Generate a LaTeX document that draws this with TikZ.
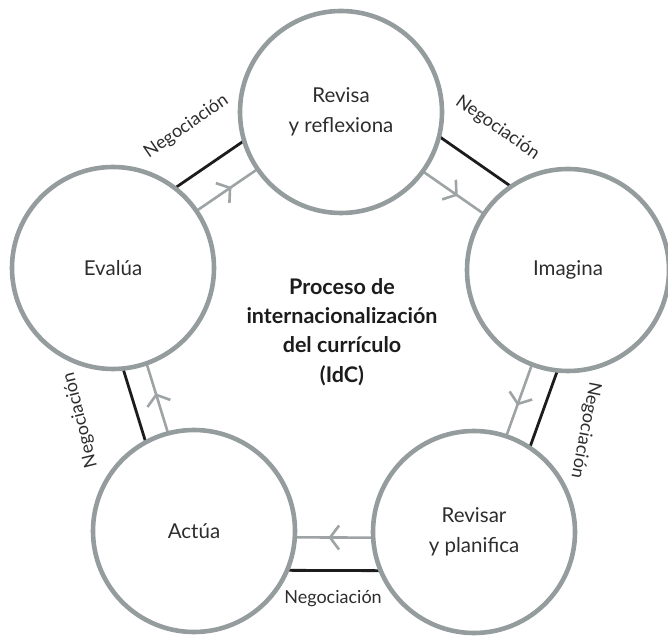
\documentclass[tikz,border=0pt]{standalone}
\usepackage{fontspec}
\setmainfont{Lato}
\usetikzlibrary{calc,decorations.markings}
\pgfdeclarelayer{background}
\pgfsetlayers{background,main}
\definecolor{ringgray}{RGB}{149,156,157}
\definecolor{flowgray}{RGB}{158,164,165}
\definecolor{negoblack}{RGB}{28,28,28}
\definecolor{textgray}{RGB}{45,45,45}

% two parallel links between stages: a grey flow line with a chevron
% (offset #3) and a black negotiation line (offset #4), outward positive
\newcommand{\linkpair}[4]{%
  \pgfmathsetmacro\sg{sqrt(101*101-(#3)*(#3))}%
  \pgfmathsetmacro\sb{sqrt(101*101-(#4)*(#4))}%
  \draw[flow] ($(#1)!\sg pt!(#2)!#3pt!90:(#2)$) -- ($(#2)!\sg pt!(#1)!#3pt!-90:(#1)$);
  \draw[nego] ($(#1)!\sb pt!(#2)!#4pt!90:(#2)$) -- ($(#2)!\sb pt!(#1)!#4pt!-90:(#1)$);
}

\tikzset{
  stage/.style={circle, draw=ringgray, line width=4.6pt, minimum size=202pt,
    inner sep=0pt, outer sep=0pt, align=center, text=textgray,
    font=\fontsize{20.5}{29.5}\selectfont},
  flow/.style={draw=flowgray, line width=2.6pt,
    postaction={decorate, decoration={markings,
      mark=at position 0.55 with {\draw[flowgray, line width=2.6pt]
        (-9pt,12pt) -- (0,0) -- (-9pt,-12pt);}}}},
  nego/.style={draw=negoblack, line width=2.8pt},
  negolabel/.style={text=textgray, inner sep=0pt,
    font=\fontsize{18}{20}\selectfont},
  title/.style={align=center, text=negoblack,
    font=\bfseries\fontsize{21.5}{29.3}\selectfont}
}

\begin{document}
\begin{tikzpicture}[x=1pt,y=1pt]
  \useasboundingbox (0,0) rectangle (668,637);

  % stages of the cycle
  \node[stage] (rev) at (341,525) {Revisa\\y reflexiona};
  \node[stage] (ima) at (568,367) {Imagina};
  \node[stage] (pla) at (474,105) {Revisar\\y planifica};
  \node[stage] (act) at (194,106) {Actúa};
  \node[stage] (eva) at (113,369) {Evalúa};

  % centre title
  \node[title] (centre) at (342,305)
    {Proceso de\\internacionalización\\del currículo\\(IdC)};

  % links, clockwise
  \begin{pgfonlayer}{background}
    \linkpair{eva}{rev}{0}{31}
    \linkpair{rev}{ima}{-2}{36}
    \linkpair{ima}{pla}{-2}{24}
    \linkpair{pla}{act}{6}{39}
    \linkpair{act}{eva}{-4}{20}
  \end{pgfonlayer}

  % negotiation labels
  \node[negolabel, rotate=34.4] (n1) at (186.4,510.5) {Negociación};
  \node[negolabel, rotate=-34.8] (n2) at (497.5,509) {Negociación};
  \node[negolabel, rotate=-101] (n3) at (585.5,207) {Negociación};
  \node[negolabel] (n4) at (333,38) {Negociación};
  \node[negolabel, rotate=104] (n5) at (80.5,217) {Negociación};
\end{tikzpicture}
\end{document}
